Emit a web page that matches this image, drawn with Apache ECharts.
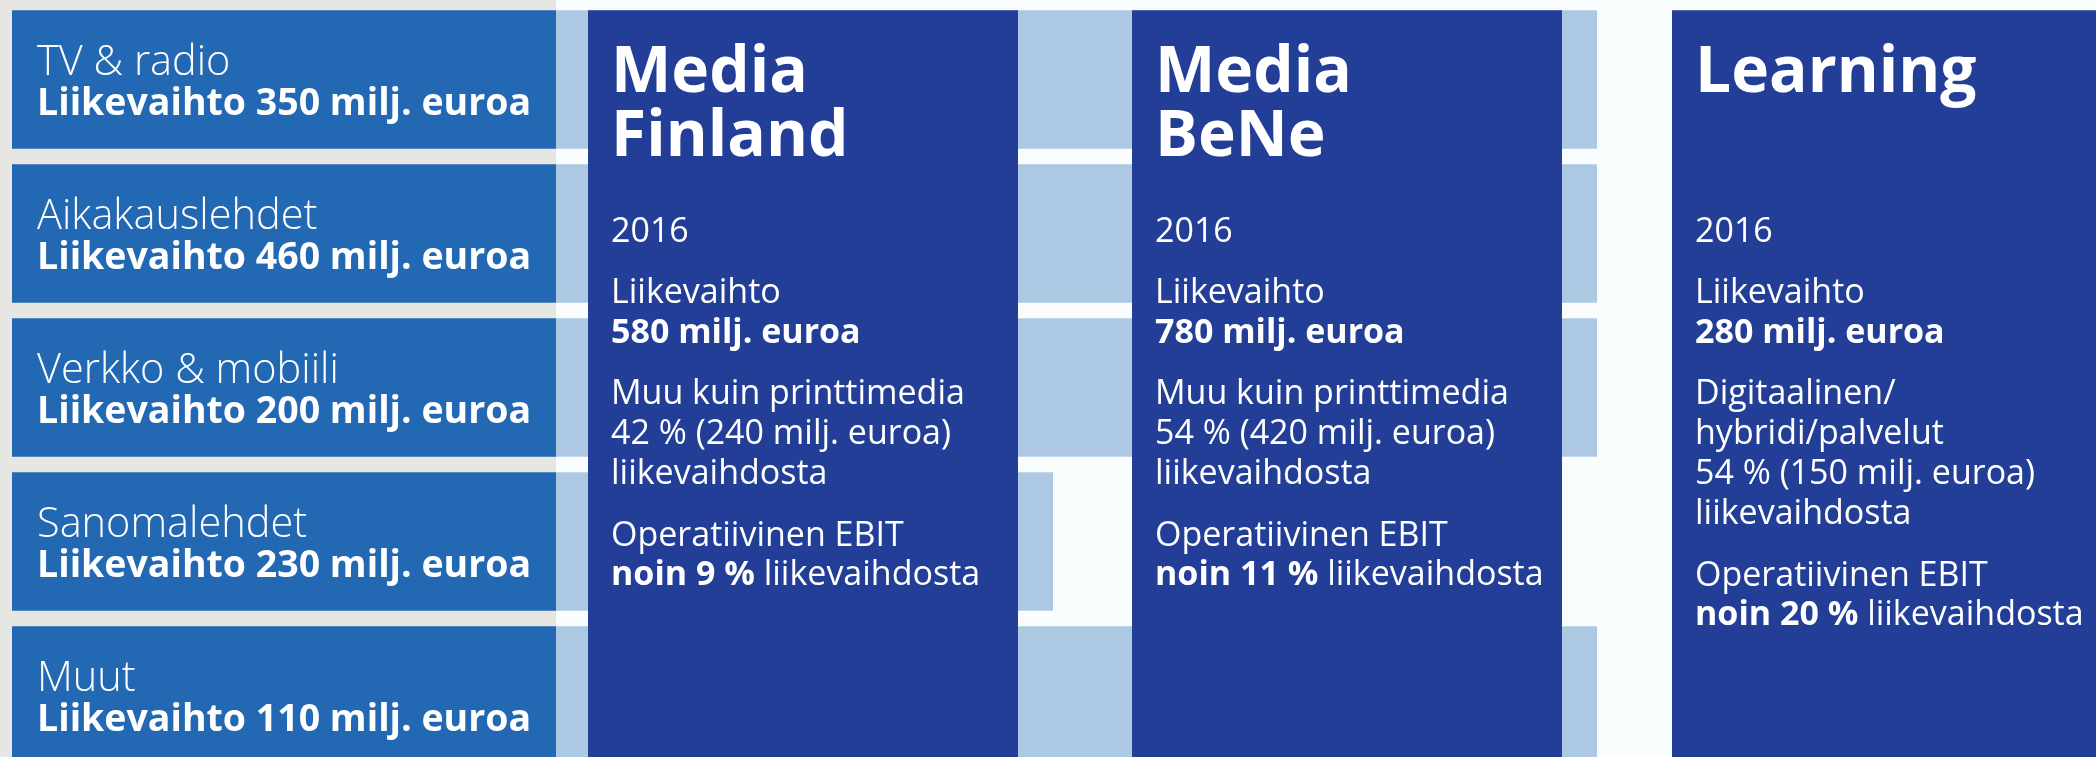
<!DOCTYPE html>
<html>
<head>
<meta charset="utf-8">
<script src="https://cdn.jsdelivr.net/npm/echarts@6/dist/echarts.min.js"></script>
<style>
html,body{margin:0;padding:0;background:#fafdfe;}
#chart{width:2096px;height:757px;}
</style>
</head>
<body>
<div id="chart"></div>
<script>
// ---- data ----
const segmentNames = ['TV & radio', 'Aikakauslehdet', 'Verkko & mobiili', 'Sanomalehdet', 'Muut'];
const segmentRevenue = [350, 460, 200, 230, 110];          // milj. euroa
const segmentReach = [2, 2, 2, 1, 2];                       // number of Media divisions the segment feeds
const divisionTitles = [['Media', 'Finland'], ['Media', 'BeNe'], ['Learning']];
const divisionYear = ['2016', '2016', '2016'];
const divisionRevenue = [580, 780, 280];                    // milj. euroa
const nonPrintLabel = [['Muu kuin printtimedia'], ['Muu kuin printtimedia'], ['Digitaalinen/', 'hybridi/palvelut']];
const nonPrintPct = [42, 54, 54];
const nonPrintValue = [240, 420, 150];
const ebitPct = [9, 11, 20];

// ---- layout / style ----
const FONT = '"Open Sans", "Noto Sans", sans-serif';
const W = 2096, H = 757;
const ROW_PITCH = 154, ROW0_CENTER = 79.5;
const BOX_LEFT = 12, BOX_RIGHT = 556;
const PANEL_X = [588, 1132, 1672];
const PANEL_W = 430;
const STRIP_EXT = 35;
const C_BOX = '#2268b3', C_PANEL = '#233e97', C_STRIP = '#adc8e2', C_GREY = '#e6e6e3';
const MID = 0.25;
const Y_MIN = -ROW0_CENTER / ROW_PITCH;
const Y_MAX = Y_MIN + H / ROW_PITCH;

function textEl(x, baseline, text, size, weight, rich) {
  const st = {
    text: text, fill: '#ffffff', fontSize: size, fontFamily: FONT, fontWeight: weight,
    align: 'left', verticalAlign: 'middle'
  };
  if (rich) st.rich = rich;
  return { type: 'text', x: x, y: baseline - size * MID, style: st, z2: 10 };
}

const chart = echarts.init(document.getElementById('chart'), null, { renderer: 'canvas' });

const option = {
  backgroundColor: '#fafdfe',
  animation: false,
  graphic: [{
    type: 'rect', left: 0, top: 0, z: -10,
    shape: { width: BOX_RIGHT, height: H }, style: { fill: C_GREY }
  }],
  grid: { left: 0, top: 0, width: W, height: H, containLabel: false },
  xAxis: { type: 'value', min: 0, max: W, show: false },
  yAxis: { type: 'value', min: Y_MIN, max: Y_MAX, inverse: true, show: false },
  series: [
    {
      type: 'custom', z: 1, clip: false,
      data: segmentNames.map((n, i) => [0, i, segmentRevenue[i], segmentReach[i]]),
      encode: { x: 0, y: 1 },
      renderItem: function (params, api) {
        const i = params.dataIndex;
        const cy = api.coord([0, api.value(1)])[1];
        const band = api.size([0, 1])[1];
        const h = band * 0.9;
        const top = cy - h / 2;
        const x0 = api.coord([BOX_LEFT, i])[0];
        const x1 = api.coord([BOX_RIGHT, i])[0];
        const reach = api.value(3);
        const xEnd = api.coord([PANEL_X[reach - 1] + PANEL_W + STRIP_EXT, i])[0];
        const tx = x0 + 25;
        return {
          type: 'group',
          children: [
            { type: 'rect', shape: { x: x1, y: top, width: xEnd - x1, height: h }, style: { fill: C_STRIP } },
            { type: 'rect', shape: { x: x0, y: top, width: x1 - x0, height: h }, style: { fill: C_BOX } },
            textEl(tx, top + 63, segmentNames[i], 41.5, 300),
            textEl(tx, top + 103, 'Liikevaihto ' + api.value(2) + ' milj. euroa', 37.5, 700)
          ]
        };
      }
    },
    {
      type: 'custom', z: 2, clip: false,
      data: divisionRevenue.map((v, i) => [PANEL_X[i], 0, v, nonPrintPct[i], nonPrintValue[i], ebitPct[i]]),
      encode: { x: 0, y: 1 },
      renderItem: function (params, api) {
        const i = params.dataIndex;
        const band = api.size([0, 1])[1];
        const top = api.coord([0, 0])[1] - band * 0.45;
        const x0 = api.coord([api.value(0), 0])[0];
        const x1 = api.coord([api.value(0) + PANEL_W, 0])[0];
        const bottom = api.getHeight();
        const tx = x0 + 23;
        const children = [
          { type: 'rect', shape: { x: x0, y: top, width: x1 - x0, height: bottom - top }, style: { fill: C_PANEL } }
        ];
        const T = 64, B = 34, LH = 40, GAP = 61;
        divisionTitles[i].forEach((t, k) => children.push(textEl(tx, top + 80 + k * 64, t, T, 700)));
        let y = top + 231;
        children.push(textEl(tx, y, divisionYear[i], B, 400));
        y += GAP;
        children.push(textEl(tx, y, 'Liikevaihto', B, 400));
        y += LH;
        children.push(textEl(tx, y, api.value(2) + ' milj. euroa', B, 700));
        y += GAP;
        nonPrintLabel[i].forEach(l => { children.push(textEl(tx, y, l, B, 400)); y += LH; });
        children.push(textEl(tx, y, api.value(3) + ' % (' + api.value(4) + ' milj. euroa)', B, 400));
        y += LH;
        children.push(textEl(tx, y, 'liikevaihdosta', B, 400));
        y += 62;
        children.push(textEl(tx, y, 'Operatiivinen EBIT', B, 400));
        y += 39;
        children.push(textEl(tx, y, '{b|noin ' + api.value(5) + ' %} liikevaihdosta', B, 400,
          { b: { fontSize: B, fontFamily: FONT, fontWeight: 700, fill: '#ffffff' } }));
        return { type: 'group', children: children };
      }
    }
  ]
};
chart.setOption(option);
</script>
</body>
</html>
